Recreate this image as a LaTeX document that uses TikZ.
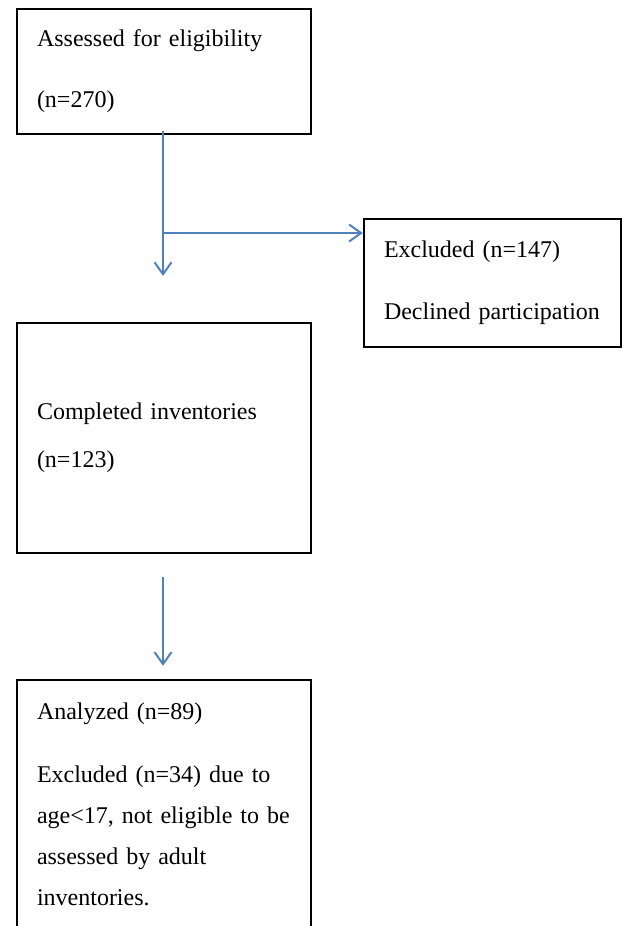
\documentclass[tikz,border=0pt]{standalone}
\usepackage{fontspec}
\setmainfont{Liberation Serif}
\usepackage{tikz}
\usetikzlibrary{arrows.meta}
\definecolor{flowblue}{RGB}{79,129,189}

\begin{document}
\begin{tikzpicture}[x=1pt,y=-1pt,line width=2pt]
    \tikzstyle{box}=[draw=black,line width=2.4pt,rectangle,inner xsep=20pt,inner ysep=0pt,
        align=left,font=\fontsize{24pt}{41pt}\selectfont]
    \tikzstyle{wide box}=[box,text width=254pt];
    \tikzstyle{side box}=[box,text width=217pt];
    \tikzstyle{flow}=[draw=flowblue,-{Straight Barb[length=12pt,width=17pt]}];

    % page size and cut at the bottom
    \useasboundingbox (0,0) rectangle (622,926);
    \clip (0,0) rectangle (622,926);

    % Draw the boxes
    \node[wide box,minimum height=125pt] (B-1) at (164,71.5)
        {Assessed for eligibility\\[20pt](n=270)};
    \node[side box,minimum height=128pt] (X-1) at (492.5,283)
        {Excluded (n=147)\\[21pt]Declined participation};
    \node[wide box,minimum height=230pt] (B-2) at (164,438)
        {Completed inventories\\[7pt](n=123)};
    \node[wide box,minimum height=248pt] (B-3) at (164,804)
        {Analyzed (n=89)\\[22pt]Excluded (n=34) due to\\age<17, not eligible to be\\assessed by adult\\inventories.};

    % Connect the boxes
    \coordinate (down-1) at (163,276);
    \coordinate (split) at (163,233);
    \draw[flow] ([xshift=-1pt,yshift=4pt]B-1.south) -- (down-1);
    \draw[flow] (split) -- (split -| X-1.west);
    \draw[flow] ([xshift=-1pt,yshift=-23pt]B-2.south) -- ([xshift=-1pt,yshift=13pt]B-3.north);
\end{tikzpicture}
\end{document}
